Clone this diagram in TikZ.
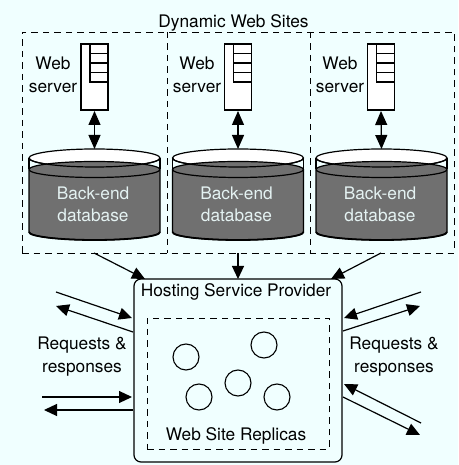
\documentclass[tikz,border=0pt]{standalone}
\usepackage{fontspec}
\setmainfont{TeX Gyre Heros}
\usetikzlibrary{arrows.meta}
\definecolor{pagebg}{HTML}{F0FFFF}
\definecolor{dbgrey}{HTML}{707070}
\definecolor{dbtext}{HTML}{E4F2F2}
\tikzset{
  lbl/.style={align=center,inner sep=0pt,font=\fontsize{17.3}{22.5}\selectfont},
  dashbox/.style={draw,line width=0.95pt,dash pattern=on 6.5pt off 5pt,inner sep=0pt,outer sep=0pt},
  serverbox/.style={draw,fill=white,line width=1.2pt,inner sep=0pt,outer sep=0pt,minimum width=27,minimum height=66},
  slot/.style={draw,line width=1.2pt,inner sep=0pt,outer sep=0pt,minimum width=18,minimum height=9.5},
  replica/.style={draw,circle,line width=1.1pt,inner sep=0pt,minimum size=26},
  flow/.style={-{Triangle[length=13pt,width=12pt]},line width=1.2pt},
  dbline/.style={line width=1.2pt}
}
\begin{document}
\begin{tikzpicture}[x=1pt,y=1pt]
\fill[pagebg] (0,0) rectangle (458,465);
\useasboundingbox (0,0) rectangle (458,465);
% three sites
\node (sitestitle) [lbl] at (233.5,442.5) {Dynamic Web Sites};
\node (sites) [dashbox,minimum width=432,minimum height=221] at (238,322.5) {};
\coordinate (divtop1) at (167,433);
\coordinate (divbot1) at (167,212);
\coordinate (divtop2) at (310,433);
\coordinate (divbot2) at (310,212);
\draw [dashbox] (divtop1) -- (divbot1);
\draw [dashbox] (divtop2) -- (divbot2);
\foreach \i/\srvx/\dbx/\webx in {1/94.5/94.5/53, 2/238/238/197, 3/381/381.5/340} {
  \node (server\i) [serverbox] at (\srvx,388) {};
  \foreach \j/\sloty in {1/416.2,2/406.7,3/397.2,4/387.7}
    \node (slot\i\j) [slot] at (\srvx+4.5,\sloty) {};
  \node (web\i) [lbl] at (\webx,390) {Web\\server};
  % database
  \coordinate (db\i) at (\dbx,316);
  \draw [dbline] (\dbx-65.5,307) -- (\dbx-65.5,295.5) (\dbx+65.5,307) -- (\dbx+65.5,295.5);
  \draw [dbline,fill=white] (\dbx,307) ellipse (65.5 and 9);
  \draw [dbline,fill=dbgrey] (\dbx-65.5,295.5) -- (\dbx-65.5,233)
    arc [start angle=180,end angle=360,x radius=65.5,y radius=8] -- (\dbx+65.5,295.5)
    arc [start angle=0,end angle=180,x radius=65.5,y radius=8] -- cycle;
  \draw [dbline] (\dbx-65.5,295.5) arc [start angle=180,end angle=360,x radius=65.5,y radius=8];
  \draw [dbline] (\dbx-65.5,307) arc [start angle=180,end angle=360,x radius=65.5,y radius=9];
  \draw [line width=1.8pt] (\dbx-65.5,233) arc [start angle=180,end angle=360,x radius=65.5,y radius=8];
  \node (dbtext\i) [lbl,text=dbtext] at (\dbx-1.5,260.5) {Back-end\\database};
  \draw [{Triangle[length=14pt,width=12pt]}-{Triangle[length=14pt,width=12pt]},line width=1.2pt] (server\i.south) ++(0,-1) -- (db\i);
}
% hosting provider
\node (hosting) [draw,rounded corners=7pt,line width=1.2pt,inner sep=0pt,outer sep=0pt,minimum width=208,minimum height=183] at (238,94.5) {};
\node (hostingtitle) [lbl] at (236,173.5) {Hosting Service Provider};
\node (replicas) [dashbox,minimum width=182,minimum height=131] at (238,81.5) {};
\node (replicastitle) [lbl] at (236,29.5) {Web Site Replicas};
\node (rep1) [replica] at (186,108) {};
\node (rep2) [replica] at (199,68) {};
\node (rep3) [replica] at (264,120) {};
\node (rep4) [replica] at (238,82) {};
\node (rep5) [replica] at (277,68) {};
% sites to provider
\coordinate (siteout1) at (94,212);
\coordinate (hostin1) at (145,186);
\coordinate (siteout2) at (238,212);
\coordinate (siteout3) at (381,212);
\coordinate (hostin3) at (331,186);
\draw [flow] (siteout1) -- (hostin1);
\draw [flow] (siteout2) -- (hosting.north);
\draw [flow] (siteout3) -- (hostin3);
% requests on the left
\node (reqleft) [lbl] at (82,108.5) {Requests \&\\responses};
\coordinate (la) at (56,173);
\coordinate (lb) at (132,147);
\coordinate (lc) at (133,133);
\coordinate (ld) at (56,159);
\coordinate (le) at (42,68);
\coordinate (lf) at (132,68);
\coordinate (lg) at (133,55);
\coordinate (lh) at (44,55);
\draw [flow] (la) -- (lb);
\draw [flow] (lc) -- (ld);
\draw [flow] (le) -- (lf);
\draw [flow] (lg) -- (lh);
% requests on the right
\node (reqright) [lbl] at (394,108.5) {Requests \&\\responses};
\coordinate (ra) at (421,173);
\coordinate (rb) at (344,147);
\coordinate (rc) at (343,134);
\coordinate (rd) at (420,159);
\coordinate (re) at (421,42);
\coordinate (rf) at (344,81);
\coordinate (rg) at (343,68);
\coordinate (rh) at (420,30);
\draw [flow] (ra) -- (rb);
\draw [flow] (rc) -- (rd);
\draw [flow] (re) -- (rf);
\draw [flow] (rg) -- (rh);
\end{tikzpicture}
\end{document}
